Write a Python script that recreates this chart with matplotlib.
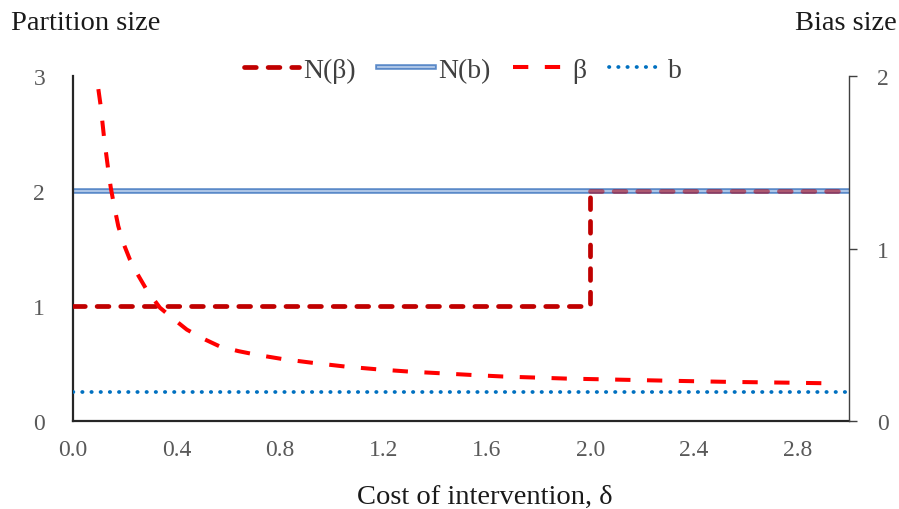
import matplotlib
matplotlib.use("Agg")
import matplotlib.pyplot as plt
import matplotlib.patheffects as pe

plt.rcParams['font.family'] = ['Liberation Serif', 'DejaVu Serif']

# Data
delta_step = [0.0, 2.0, 2.0, 3.0]
n_beta = [1, 1, 2, 2]
delta_flat = [0.0, 3.0]
n_b = [2, 2]
b_val = [0.25, 0.25]
delta_beta = [0.098, 0.107, 0.120, 0.136, 0.146, 0.16, 0.175, 0.195, 0.22, 0.25,
              0.285, 0.336, 0.39, 0.44, 0.50, 0.568, 0.64, 0.71, 0.807, 0.928,
              1.051, 1.174, 1.295, 1.419, 1.541, 1.663, 1.786, 1.908, 2.04,
              2.29, 2.53, 2.78, 2.95]
beta = [1.924, 1.827, 1.644, 1.459, 1.353, 1.24, 1.13, 1.03, 0.936, 0.85,
        0.76, 0.657, 0.59, 0.53, 0.48, 0.432, 0.405, 0.384, 0.36, 0.337,
        0.316, 0.30, 0.287, 0.277, 0.267, 0.258, 0.252, 0.246, 0.242,
        0.234, 0.227, 0.222, 0.218]
xticks = [0.0, 0.4, 0.8, 1.2, 1.6, 2.0, 2.4, 2.8]
left_ticks = [0, 1, 2, 3]
right_ticks = [0, 1, 2]

fig = plt.figure(figsize=(8.99, 5.10), dpi=100)
ax = fig.add_axes([0.0812, 0.1725, 0.8632, 0.6765])
ax2 = ax.twinx()

tick_color = '#595959'
text_color = '#1a1a1a'

nb_effects = [pe.Stroke(linewidth=4.0, foreground='#5A89C8'), pe.Normal()]
l2, = ax.plot(delta_flat, n_b, color='#B4CBEA', lw=1.3, label='N(b)', zorder=2,
              path_effects=nb_effects)
l1, = ax.plot(delta_step[:3], n_beta[:3], color='#C00000', lw=3.4, ls=(0, (2.5, 2.5)),
              dash_capstyle='round', label='N(β)', zorder=3)
ax.plot(delta_step[2:], n_beta[2:], color='#B00010', lw=3.4, ls=(0, (2.5, 2.5)),
        dash_capstyle='round', alpha=0.55, zorder=3)
l4, = ax.plot(delta_flat, b_val, color='#0070C0', lw=2.7, ls=(0, (0.1, 2.35)),
              dash_capstyle='round', label='b', zorder=3)
l3, = ax2.plot(delta_beta, beta, color='#FF0000', lw=2.9, ls=(0, (3.8, 4.1)),
               label='β', zorder=3)

ax.set_xlim(0, 3)
ax.set_ylim(0, 3)
ax2.set_ylim(0, 2)
ax.set_xticks(xticks)
ax.set_xticklabels([f"{t:.1f}" for t in xticks])
ax.set_yticks(left_ticks)
ax2.set_yticks(right_ticks)

for a in (ax, ax2):
    for s in a.spines.values():
        s.set_visible(False)
ax.spines['left'].set_visible(True)
ax.spines['bottom'].set_visible(True)
ax.spines['left'].set_color('#262626')
ax.spines['bottom'].set_color('#262626')
ax.spines['left'].set_linewidth(1.6)
ax.spines['bottom'].set_linewidth(1.6)
ax2.spines['right'].set_visible(True)
ax2.spines['right'].set_color('#404040')
ax2.spines['right'].set_linewidth(1.0)

ax.tick_params(axis='x', length=0, pad=13, labelsize=17, labelcolor=tick_color)
ax.tick_params(axis='y', length=0, pad=20, labelsize=17, labelcolor=tick_color)
ax2.tick_params(axis='y', length=6, width=1, color='#404040', direction='out', pad=14,
                labelsize=17, labelcolor=tick_color)

fig.text(0.5395, 0.024, 'Cost of intervention, δ', fontsize=20.5, color=text_color,
         va='center', ha='center')
fig.text(0.012, 0.953, 'Partition size', fontsize=20.5, color=text_color, va='center', ha='left')
fig.text(0.997, 0.953, 'Bias size', fontsize=20.5, color=text_color, va='center', ha='right')

leg = fig.legend(handles=[l1, l2, l3, l4], loc='center', bbox_to_anchor=(0.515, 0.86),
                 ncol=4, frameon=False, fontsize=20, handlelength=2.0, handletextpad=0.15,
                 columnspacing=0.8, labelcolor='#404040')

fig.savefig('out.png', dpi=100)
